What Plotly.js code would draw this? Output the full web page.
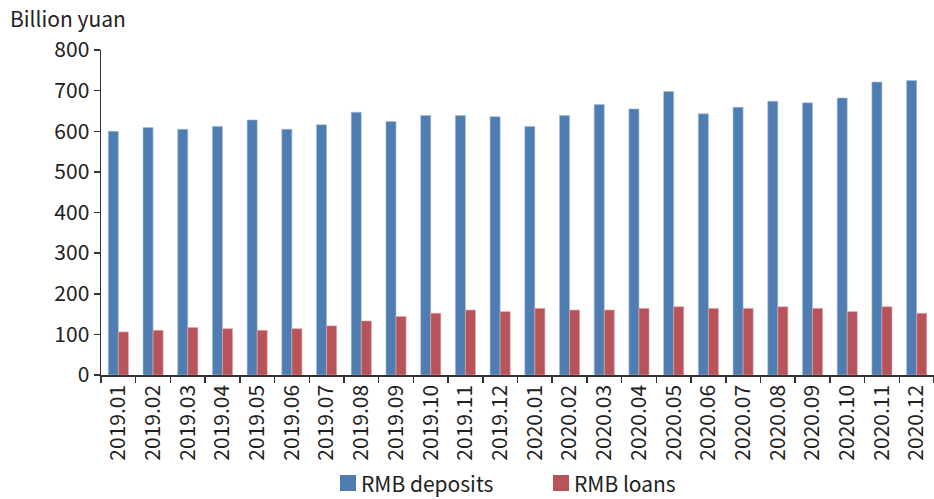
<!DOCTYPE html>
<html>
<head>
<meta charset="utf-8">
<script src="https://cdn.plot.ly/plotly-3.0.1.min.js"></script>
<style>html,body{margin:0;padding:0;background:#fff;}#chart{width:934px;height:499px;}</style>
</head>
<body>
<div id="chart"></div>
<script>
const months = ["2019.01","2019.02","2019.03","2019.04","2019.05","2019.06","2019.07","2019.08","2019.09","2019.10","2019.11","2019.12",
                "2020.01","2020.02","2020.03","2020.04","2020.05","2020.06","2020.07","2020.08","2020.09","2020.10","2020.11","2020.12"];
const deposits = [600,609,605,612,628,605,616,647,624,639,639,636,612,639,666,655,698,643,659,674,670,682,721,725];
const loans = [106,110,117,114,110,114,121,133,144,152,160,156,164,160,160,164,168,164,164,168,164,156,168,152];
const yTicks = [0,100,200,300,400,500,600,700,800];
const seriesNames = ["RMB deposits","RMB loans"];
const seriesColors = ["#4f7db1","#b7545a"];

const FONT = '"Noto Sans CJK SC", "Noto Sans", sans-serif';
const TXT = '#222222';
const FS = 21;

const traces = [
  {type:'bar', name:seriesNames[0], x:months, y:deposits,
   marker:{color:seriesColors[0], line:{color:'#a8bfdc', width:0.6}}},
  {type:'bar', name:seriesNames[1], x:months, y:loans,
   marker:{color:seriesColors[1], line:{color:'#e0a9ac', width:0.6}}}
];

// legend drawn manually (pixel placement -> paper coords)
const W = 934, H = 499, ML = 101, MR = 0, MT = 50, MB = 124;
const PW = W - ML - MR, PH = H - MT - MB;
const px = x => (x - ML) / PW;
const py = y => (H - MB - y) / PH;
const legendItems = [{sq:340, name:seriesNames[0], color:seriesColors[0]},
                     {sq:553, name:seriesNames[1], color:seriesColors[1]}];
const shapes = legendItems.map(it => ({type:'rect', xref:'paper', yref:'paper',
  x0:px(it.sq), x1:px(it.sq+16), y0:py(491), y1:py(475),
  fillcolor:it.color, line:{width:0}}));
const legendAnn = legendItems.map(it => ({text:it.name, xref:'paper', yref:'paper',
  x:px(it.sq+19), y:py(483), xanchor:'left', yanchor:'middle', showarrow:false,
  font:{family:FONT, size:FS, color:TXT}}));

const layout = {
  width:W, height:H,
  margin:{l:ML, r:MR, t:MT, b:MB, pad:0},
  paper_bgcolor:'#fff', plot_bgcolor:'#fff',
  font:{family:FONT, size:FS, color:TXT},
  barmode:'group', bargap:0.42, bargroupgap:0,
  showlegend:false,
  xaxis:{type:'category', tickangle:-90, showline:true, linecolor:'#333', linewidth:1.5,
         ticks:'outside', ticklen:6, tickcolor:'#333', tickwidth:1.5, tickson:'boundaries',
         tickfont:{family:FONT, size:FS, color:TXT}, showgrid:false, zeroline:false, automargin:false},
  yaxis:{range:[0,800], tickvals:yTicks, showline:true, linecolor:'#333', linewidth:1.5,
         ticks:'outside', ticklen:6, tickcolor:'#333', tickwidth:1.5,
         tickfont:{family:FONT, size:FS, color:TXT}, showgrid:false, zeroline:false, automargin:false},
  shapes:shapes,
  annotations:[{text:'Billion yuan', xref:'paper', yref:'paper', x:px(8), y:py(18),
                xanchor:'left', yanchor:'middle', showarrow:false,
                font:{family:FONT, size:FS, color:TXT}}].concat(legendAnn)
};

Plotly.newPlot('chart', traces, layout, {displayModeBar:false, staticPlot:true});
</script>
</body>
</html>
